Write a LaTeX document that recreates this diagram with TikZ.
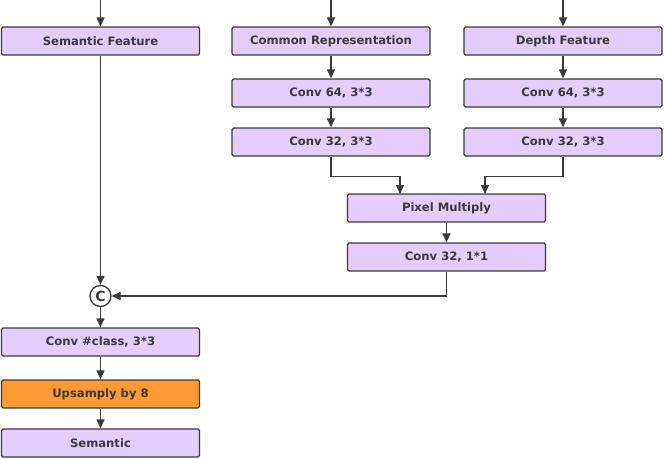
\documentclass[tikz,border=0pt]{standalone}
\usepackage{fontspec}
\setmainfont{DejaVu Sans}
\usetikzlibrary{arrows.meta}

\definecolor{boxfill}{HTML}{E2CDFB}
\definecolor{upfill}{HTML}{FD9A33}
\definecolor{linecol}{HTML}{3A3A3A}

\tikzset{
  block/.style={draw=linecol, fill=boxfill, line width=1.3pt, rounded corners=1.5pt,
    minimum width=198pt, minimum height=28pt, inner sep=0pt,
    text=linecol, font=\bfseries\fontsize{11.6}{13}\selectfont},
  link/.style={draw=linecol, line width=1.3pt, -{Triangle[length=9pt,width=8pt]}}
}

\begin{document}
\begin{tikzpicture}[x=1pt, y=-1pt]
  \useasboundingbox (0,0) rectangle (664,458);

  % top row
  \node[block] (sem)    at (100.5, 41) {Semantic Feature};
  \node[block] (common) at (331, 41)   {Common Representation};
  \node[block] (depth)  at (563, 41)   {Depth Feature};

  \coordinate (semIn)    at (100.5, 0);
  \coordinate (commonIn) at (331, 0);
  \coordinate (depthIn)  at (563, 0);

  % two conv branches
  \node[block] (cA64) at (331, 93)  {Conv 64, 3*3};
  \node[block] (cA32) at (331, 142) {Conv 32, 3*3};
  \node[block] (cB64) at (563, 93)  {Conv 64, 3*3};
  \node[block] (cB32) at (563, 142) {Conv 32, 3*3};

  % fusion
  \node[block] (mult) at (446.5, 208) {Pixel Multiply};
  \node[block] (c1x1) at (446.5, 257) {Conv 32, 1*1};

  \coordinate (multA) at (400, 194);
  \coordinate (multB) at (485, 194);

  % concat + head
  \node[draw=linecol, fill=white, circle, line width=1.3pt, minimum size=21pt, inner sep=0pt,
        text=linecol, font=\bfseries\fontsize{14}{14}\selectfont] (cat) at (100.5, 296) {C};
  \node[block] (cls) at (100.5, 342) {Conv \#class, 3*3};
  \node[block, fill=upfill] (up) at (100.5, 394) {Upsamply by 8};
  \node[block] (out) at (100.5, 443) {Semantic};

  \draw[link] (semIn) -- (sem);
  \draw[link] (commonIn) -- (common);
  \draw[link] (depthIn) -- (depth);

  \draw[link] (common) -- (cA64);
  \draw[link] (cA64) -- (cA32);
  \draw[link] (depth) -- (cB64);
  \draw[link] (cB64) -- (cB32);

  \draw[link] (cA32.south) -- ++(0, 20) -| (multA);
  \draw[link] (cB32.south) -- ++(0, 20) -| (multB);
  \draw[link] (mult) -- (c1x1);

  \draw[link] (sem) -- (cat);
  \draw[link] (c1x1.south) |- (cat);
  \draw[link] (cat) -- (cls);
  \draw[link] (cls) -- (up);
  \draw[link] (up) -- (out);
\end{tikzpicture}
\end{document}
